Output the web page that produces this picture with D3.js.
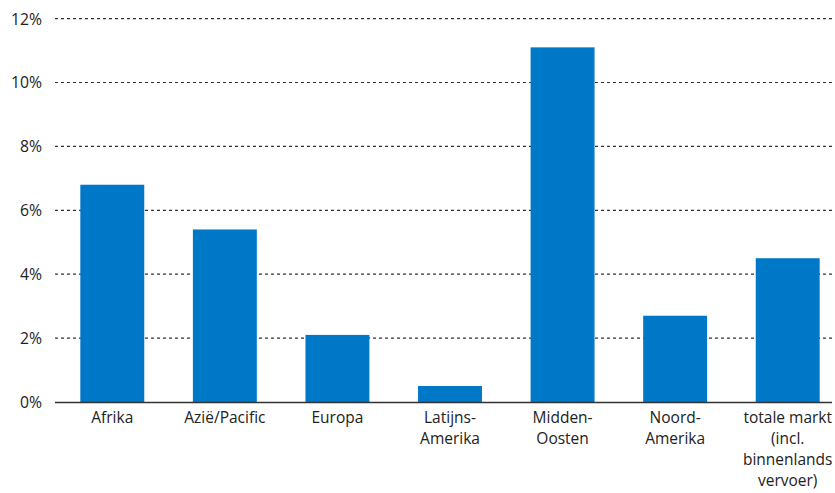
<!DOCTYPE html>
<html><head><meta charset="utf-8">
<script src="https://cdn.jsdelivr.net/npm/d3@7"></script>
<style>body{margin:0;background:#fff}svg{display:block}text{font-family:"Open Sans",sans-serif;fill:#222}</style>
</head><body><svg id="c" width="835" height="493"></svg>
<script>
const categories=[["Afrika"],["Azië/Pacific"],["Europa"],["Latijns-","Amerika"],["Midden-","Oosten"],["Noord-","Amerika"],["totale markt","(incl.","binnenlands","vervoer)"]];
const values=[6.8,5.4,2.1,0.5,11.1,2.7,4.5];
const yTicks=[0,2,4,6,8,10,12];
const svg=d3.select("#c");
const keys=categories.map(c=>c.join(" "));
const x=d3.scaleBand().domain(keys).range([56,844]).paddingInner(0.432).paddingOuter(0.216);
const y=d3.scaleLinear().domain([0,12]).range([402,18.6]);
const gl=55,gr=832;
svg.append("g").selectAll("line").data(yTicks.filter(t=>t>0)).join("line")
 .attr("x1",gl).attr("x2",gr).attr("y1",d=>y(d)).attr("y2",d=>y(d))
 .attr("stroke","#333").attr("stroke-width",1.2).attr("stroke-dasharray","3,3");
svg.append("g").selectAll("text").data(yTicks).join("text")
 .attr("x",42).attr("y",d=>y(d)).attr("dy","0.36em").attr("text-anchor","end")
 .attr("font-size",16.5).attr("textLength",d=>d>=10?31:22).attr("lengthAdjust","spacingAndGlyphs").text(d=>d+"%");
svg.append("g").selectAll("rect").data(values).join("rect")
 .attr("x",(d,i)=>x(keys[i])).attr("width",x.bandwidth())
 .attr("y",d=>y(d)).attr("height",d=>y(0)-y(d)).attr("fill","#0078C8");
svg.append("line").attr("x1",gl).attr("x2",gr).attr("y1",y(0)+0.5).attr("y2",y(0)+0.5).attr("stroke","#333").attr("stroke-width",1.5);
const lab=svg.append("g").selectAll("text").data(categories).join("text")
 .attr("text-anchor","middle").attr("font-size",15.5)
 .attr("transform",(d,i)=>`translate(${x(keys[i])+x.bandwidth()/2},423)`);
lab.selectAll("tspan").data(d=>d).join("tspan").attr("x",0).attr("dy",(d,i)=>i?21:0).text(d=>d);
</script></body></html>
